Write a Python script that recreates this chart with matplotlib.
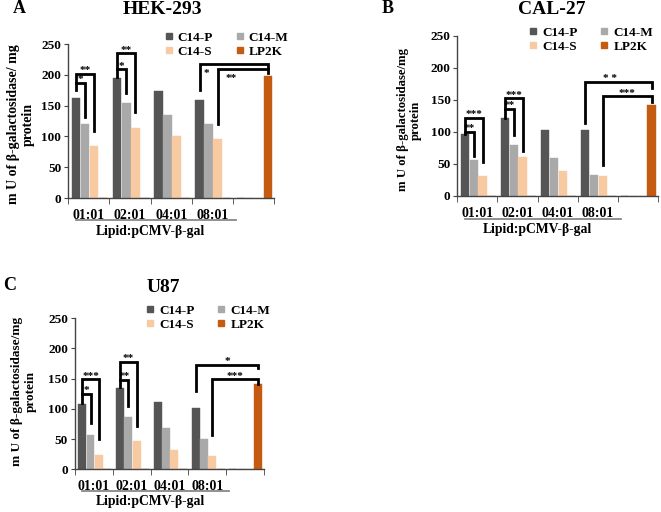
import numpy as np
import matplotlib
matplotlib.use("Agg")
import matplotlib.pyplot as plt
import matplotlib.transforms as mtransforms
from matplotlib.lines import Line2D

plt.rcParams['font.family'] = ['Liberation Serif', 'DejaVu Serif']
plt.rcParams['font.weight'] = 'bold'

# data
categories = ["01:01", "02:01", "04:01", "08:01", ""]
series_names = ["C14-P", "C14-M", "C14-S", "LP2K"]
colors = ["#555555", "#a9a9a9", "#f8caa2", "#c55a11"]

hek_p = [163, 195, 174, 160, 0]
hek_m = [120, 155, 135, 121, 0]
hek_s = [85, 113, 100, 96, 0]
hek_lp = [0, 0, 0, 0, 198]

cal_p = [96, 122, 103, 102, 0]
cal_m = [56, 79, 58, 32, 0]
cal_s = [30, 60, 38, 30, 0]
cal_lp = [0, 0, 0, 0, 142]

u87_p = [108, 134, 112, 102, 0]
u87_m = [57, 87, 68, 50, 0]
u87_s = [24, 47, 32, 22, 0]
u87_lp = [0, 0, 0, 0, 141]

# significance brackets: (cat1, ser1, cat2, ser2, y_left, y_top, y_right, label, label_x, label_y)
hek_brackets = [
    (0, 0, 0, 1, 175, 187, 132, "*", None, None),
    (0, 0, 0, 2, 187, 202, 109, "**", None, None),
    (1, 0, 1, 1, 197, 209, 170, "*", None, None),
    (1, 0, 1, 2, 209, 235, 140, "**", None, None),
    (3, 0, 4, 3, 175, 218, 210, "*", 2.85, 203),
    (3, 2, 4, 3, 121, 209, 203, "**", 3.45, 194),
]
cal_brackets = [
    (0, 0, 0, 1, 96, 100, 62, "**", None, None),
    (0, 0, 0, 2, 100, 122, 52, "***", None, None),
    (1, 0, 1, 1, 122, 136, 95, "**", None, None),
    (1, 0, 1, 2, 136, 152, 69, "***", None, None),
    (3, 0, 4, 3, 113, 178, 168, "* *", 3.3, None),
    (3, 2, 4, 3, 48, 155, 147, "***", None, None),
]
u87_brackets = [
    (0, 0, 0, 1, 110, 125, 76, "*", None, None),
    (0, 0, 0, 2, 125, 149, 50, "***", None, None),
    (1, 0, 1, 1, 136, 148, 104, "**", None, None),
    (1, 0, 1, 2, 148, 178, 71, "**", None, None),
    (3, 0, 4, 3, 129, 173, 167, "*", None, None),
    (3, 2, 4, 3, 57, 149, 142, "***", None, None),
]

width = 0.21
offsets = [-0.31, -0.09, 0.13, 0.35]


def draw_panel(ax, values, brackets, title, title_xy, letter, letter_xy,
               legend_anchor, ylabel, ylabel_xy, ylabel_size):
    x = np.arange(len(categories))
    for k, vals in enumerate(values):
        ax.bar(x + offsets[k], vals, width, color=colors[k], label=series_names[k],
               edgecolor=colors[k], linewidth=0.3, zorder=2)

    ax.set_ylim(0, 250)
    ax.set_yticks(range(0, 251, 50))
    ax.set_xlim(-0.5, 4.5)
    ax.set_xticks(x)
    ax.set_xticklabels(categories, fontsize=10, fontweight='bold')
    ax.set_xticks(np.arange(-0.5, 5, 1), minor=True)
    ax.tick_params(axis='x', which='major', length=0, pad=8)
    ax.tick_params(axis='x', which='minor', length=4, direction='out', color='#444444')
    ax.tick_params(axis='y', length=3, direction='out', labelsize=9.5, color='#444444', pad=2)
    for lab in ax.get_yticklabels():
        lab.set_fontweight('bold')
    for s in ['top', 'right']:
        ax.spines[s].set_visible(False)
    for s in ['left', 'bottom']:
        ax.spines[s].set_color('#444444')
        ax.spines[s].set_linewidth(1.0)

    ax.set_ylabel(ylabel, fontsize=ylabel_size, fontweight='bold', linespacing=1.15,
                  va='center', ha='center')
    ax.yaxis.set_label_coords(*ylabel_xy)

    trans = mtransforms.blended_transform_factory(ax.transData, ax.transAxes)
    ax.plot([-0.32, 3.58], [-0.145, -0.145], color='#888888', lw=1.3,
            transform=trans, clip_on=False)
    ax.text(1.5, -0.215, "Lipid:pCMV-β-gal", transform=trans, ha='center', va='center',
            fontsize=9.8, fontweight='bold')

    fig = ax.figure
    fig.text(title_xy[0], title_xy[1], title, fontsize=14, fontweight='bold',
             ha='center', va='center')
    fig.text(letter_xy[0], letter_xy[1], letter, fontsize=13, fontweight='bold',
             ha='left', va='center')

    for c1, s1, c2, s2, yl, yt, yr, lab, lx, ly in brackets:
        x1 = c1 + offsets[s1]
        x2 = c2 + offsets[s2]
        ax.plot([x1, x1, x2, x2], [yl, yt, yt, yr], color='black', lw=2.0,
                solid_joinstyle='miter', zorder=3, clip_on=False)
        tx = (x1 + x2) / 2 if lx is None else lx
        if ly is None:
            ax.text(tx, yt + 1, lab, ha='center', va='baseline', fontsize=8,
                    fontweight='bold', clip_on=False, zorder=4)
        else:
            ax.text(tx, ly, lab, ha='center', va='center', fontsize=8,
                    fontweight='bold', clip_on=False, zorder=4)

    handles = [Line2D([0], [0], marker='s', linestyle='none', markersize=5,
                      markerfacecolor=c, markeredgecolor=c) for c in colors]
    # legend fills column-wise, so reorder to read P, M / S, LP2K row-wise
    order = [0, 2, 1, 3]
    ax.legend([handles[i] for i in order], [series_names[i] for i in order], ncol=2,
              loc='upper left', bbox_to_anchor=legend_anchor, frameon=False,
              handletextpad=0.2, columnspacing=1.5, labelspacing=0.12,
              borderaxespad=0, handlelength=1.0, prop={'weight': 'bold', 'size': 9.5})


fig = plt.figure(figsize=(6.61, 5.12), dpi=100)

ax_a = fig.add_axes([0.103, 0.613, 0.312, 0.301])
ax_b = fig.add_axes([0.692, 0.618, 0.303, 0.3125])
ax_c = fig.add_axes([0.1135, 0.0834, 0.286, 0.295])

draw_panel(ax_a, [hek_p, hek_m, hek_s, hek_lp], hek_brackets, "HEK-293", (0.245, 0.981),
           "A", (0.02, 0.984), (0.43, 1.115),
           "m U of β-galactosidase/ mg\nprotein", (-0.23, 0.48), 10)
draw_panel(ax_b, [cal_p, cal_m, cal_s, cal_lp], cal_brackets, "CAL-27", (0.835, 0.981),
           "B", (0.577, 0.984), (0.32, 1.09),
           "m U of β-galactosidase/mg\nprotein", (-0.24, 0.473), 9.2)
draw_panel(ax_c, [u87_p, u87_m, u87_s, u87_lp], u87_brackets, "U87", (0.247, 0.438),
           "C", (0.005, 0.443), (0.335, 1.125),
           "m U of β-galactosidase/mg\nprotein", (-0.27, 0.514), 9.5)

fig.savefig("out.png", dpi=100)
